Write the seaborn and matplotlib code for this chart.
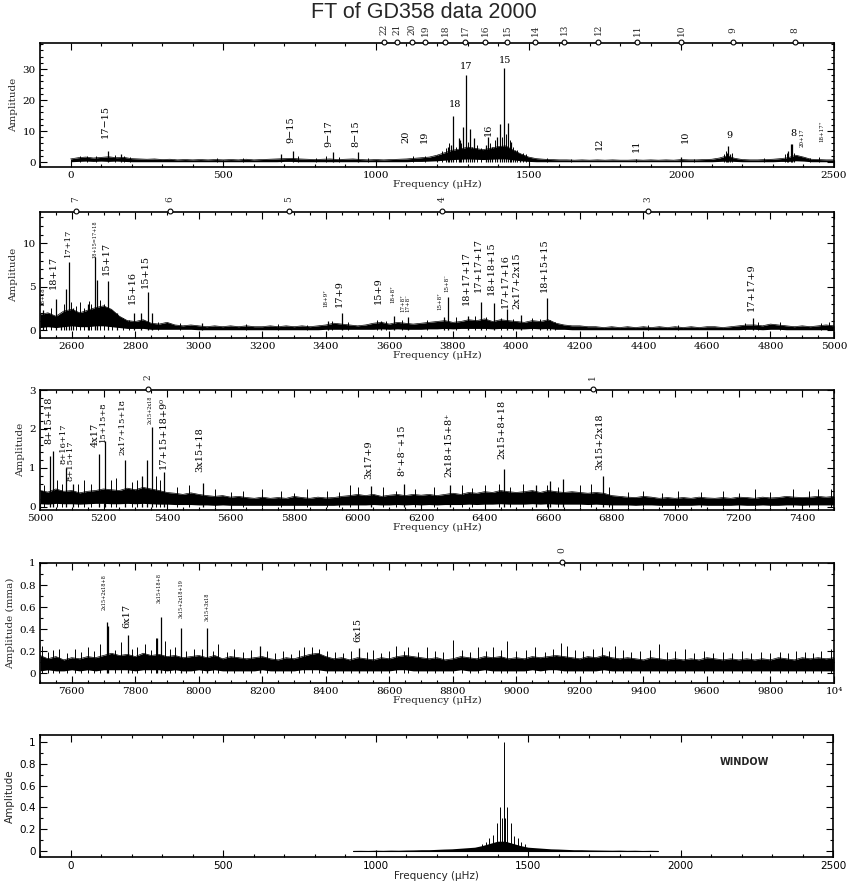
"""
FT of GD358 data 2000 - amplitude spectrum in four frequency slices plus
the spectral window, with mode numbers marked on the top axes and the
combination peaks labelled.
"""

import numpy as np
import matplotlib
matplotlib.use("Agg")
import matplotlib.pyplot as plt
import seaborn as sns
from matplotlib.ticker import MultipleLocator, FuncFormatter

sns.set_theme(style="ticks")
plt.rcParams['font.family'] = ['DejaVu Serif', 'DejaVu Sans']
plt.rcParams['axes.linewidth'] = 1.2

# ============================================================
# DATA
# ============================================================

# --- panel 1 : 0 - 2500 uHz ---------------------------------
p1_grid = np.arange(0, 2501, 25)
p1_noise_hi = [1.0, 1.4, 1.6, 1.3, 1.5, 1.7, 1.4, 1.5, 1.1, 1.0,
               0.9, 1.0, 0.8, 0.9, 0.7, 0.8, 0.7, 0.8, 0.7, 0.8,
               0.7, 0.8, 0.7, 0.9, 0.7, 0.8, 0.9, 1.0, 1.1, 1.2,
               1.0, 0.9, 0.8, 0.9, 1.0, 0.8, 0.9, 1.0, 0.8, 0.7,
               0.8, 0.7, 0.8, 0.9, 1.0, 1.2, 1.4, 1.6, 2.2, 3.0,
               3.8, 4.2, 4.8, 4.4, 4.0, 4.4, 5.0, 5.2, 3.8, 2.6,
               1.6, 1.1, 0.9, 0.8, 0.7, 0.7, 0.6, 0.7, 0.6, 0.7,
               0.6, 0.7, 0.6, 0.6, 0.7, 0.6, 0.7, 0.6, 0.7, 0.6,
               0.8, 0.7, 0.7, 0.8, 0.9, 1.3, 2.0, 1.2, 0.8, 0.7,
               0.7, 0.8, 0.9, 1.1, 1.4, 2.2, 1.6, 0.9, 0.8, 0.7,
               0.7]
p1_noise_lo = [0.1, 0.2, 0.3, 0.2, 0.3, 0.2, 0.3, 0.2, 0.1, 0.1,
               0.1, 0.1, 0.1, 0.1, 0.1, 0.1, 0.1, 0.1, 0.1, 0.1,
               0.1, 0.1, 0.1, 0.1, 0.1, 0.1, 0.1, 0.1, 0.2, 0.2,
               0.1, 0.1, 0.1, 0.1, 0.1, 0.1, 0.1, 0.1, 0.1, 0.1,
               0.1, 0.1, 0.1, 0.1, 0.1, 0.2, 0.2, 0.3, 0.4, 0.6,
               0.8, 0.9, 1.0, 0.9, 0.8, 0.9, 1.0, 1.0, 0.7, 0.4,
               0.2, 0.1, 0.1, 0.1, 0.1, 0.1, 0.1, 0.1, 0.1, 0.1,
               0.1, 0.1, 0.1, 0.1, 0.1, 0.1, 0.1, 0.1, 0.1, 0.1,
               0.1, 0.1, 0.1, 0.1, 0.1, 0.2, 0.3, 0.2, 0.1, 0.1,
               0.1, 0.1, 0.1, 0.2, 0.2, 0.4, 0.3, 0.1, 0.1, 0.1,
               0.1]
p1_peak_freq = [123, 166, 690, 729, 858, 940, 1237, 1247, 1254, 1271, 1276,
                1285, 1296, 1309, 1320, 1361, 1368, 1380, 1398, 1407, 1420,
                1431, 1443, 1455, 1471, 2000, 2148, 2154, 2160, 2351, 2358,
                2364]
p1_peak_amp = [3.5, 2.5, 2.5, 3.6, 3.2, 3.3, 5.0, 5.5, 14.8, 7.7, 7.0,
               11.4, 28.0, 10.6, 7.7, 5.5, 8.2, 5.0, 8.0, 12.2, 30.2,
               12.5, 6.5, 4.0, 2.5, 1.5, 3.0, 5.3, 2.5, 3.5, 5.7,
               5.7]
p1_spike_freq = [30, 55, 85, 145, 175, 195, 480, 565, 745, 805, 835, 880, 975,
                 1120, 1160, 1200, 1215, 1230, 1240, 1262, 1280, 1302, 1315,
                 1330, 1345, 1375, 1390, 1412, 1425, 1438, 1450, 1462, 1480,
                 1490, 1560, 1640, 1850, 2040, 2140, 2145, 2165, 2270, 2340,
                 2345, 2368, 2420, 2450]
p1_spike_amp = [1.8, 2.0, 1.9, 2.2, 2.0, 1.7, 1.2, 1.3, 1.8, 1.4, 1.8, 1.5, 1.3,
                1.8, 2.0, 2.3, 3.5, 4.5, 6.0, 5.0, 6.0, 6.5, 5.0,
                5.5, 4.5, 6.0, 7.0, 8.0, 9.0, 7.0, 5.0, 4.0, 3.0,
                2.5, 1.3, 1.1, 1.0, 1.1, 2.5, 3.5, 3.0, 1.2, 2.5,
                3.0, 3.0, 1.4, 1.6]
p1_labels = [("17−15", 115, 13.0, 7, 90), ("9−15", 723, 10.3, 7, 90),
             ("9−17", 845, 9.3, 7, 90), ("8−15", 933, 9.3, 7, 90),
             ("20", 1099, 8.2, 7, 90), ("19", 1158, 8.2, 7, 90),
             ("18", 1260, 18.7, 7, 0), ("17", 1295, 30.8, 7, 0),
             ("15", 1423, 32.9, 7, 0), ("16", 1368, 10.3, 7, 90),
             ("12", 1731, 6.0, 7, 90), ("11", 1852, 5.3, 7, 90),
             ("10", 2013, 8.2, 7, 90), ("9", 2157, 8.7, 7, 0),
             ("8", 2366, 9.2, 7, 0), ("20+17", 2397, 7.7, 4, 90),
             ("18+17⁺", 2460, 9.8, 4, 90)]
p1_mode_num = [22, 21, 20, 19, 18, 17, 16, 15, 14, 13, 12, 11, 10, 9, 8]
p1_mode_freq = [1027, 1070, 1117, 1162, 1227, 1292, 1358, 1430, 1521, 1617,
                1728, 1855, 1999, 2170, 2372]

# --- panel 2 : 2500 - 5000 uHz ------------------------------
p2_grid = np.arange(2500, 5001, 25)
p2_noise_hi = [1.8, 2.0, 1.6, 2.2, 2.4, 2.0, 2.3, 2.6, 2.8, 2.4,
               1.6, 1.1, 1.0, 1.2, 0.8, 0.7, 0.9, 0.6, 0.5, 0.6,
               0.5, 0.4, 0.5, 0.4, 0.5, 0.4, 0.5, 0.4, 0.4, 0.5,
               0.4, 0.5, 0.4, 0.5, 0.4, 0.5, 0.6, 0.8, 0.7, 0.6,
               0.5, 0.6, 0.8, 0.9, 0.7, 0.9, 0.8, 0.7, 0.8, 0.9,
               1.0, 1.1, 0.9, 1.0, 1.2, 1.1, 1.3, 1.0, 1.2, 1.1,
               1.0, 0.9, 1.1, 1.0, 1.2, 0.8, 0.6, 0.5, 0.5, 0.4,
               0.4, 0.3, 0.4, 0.3, 0.4, 0.3, 0.4, 0.3, 0.4, 0.3,
               0.4, 0.3, 0.4, 0.3, 0.4, 0.4, 0.3, 0.4, 0.5, 0.6,
               0.6, 0.5, 0.7, 0.6, 0.5, 0.4, 0.5, 0.4, 0.5, 0.6,
               0.5]
p2_noise_lo = [0.3, 0.4, 0.3, 0.4, 0.5, 0.4, 0.4, 0.5, 0.5, 0.4,
               0.3, 0.2, 0.2, 0.2, 0.1, 0.1, 0.1, 0.1, 0.1, 0.1,
               0.05, 0.05, 0.05, 0.05, 0.05, 0.05, 0.05, 0.05, 0.05, 0.05,
               0.05, 0.05, 0.05, 0.05, 0.05, 0.05, 0.1, 0.1, 0.1, 0.1,
               0.1, 0.1, 0.1, 0.15, 0.1, 0.15, 0.1, 0.1, 0.1, 0.15,
               0.15, 0.2, 0.15, 0.2, 0.2, 0.2, 0.2, 0.15, 0.2, 0.2,
               0.15, 0.15, 0.2, 0.15, 0.2, 0.1, 0.1, 0.05, 0.05, 0.05,
               0.05, 0.05, 0.05, 0.05, 0.05, 0.05, 0.05, 0.05, 0.05, 0.05,
               0.05, 0.05, 0.05, 0.05, 0.05, 0.05, 0.05, 0.05, 0.05, 0.1,
               0.1, 0.05, 0.1, 0.1, 0.05, 0.05, 0.05, 0.05, 0.05, 0.05,
               0.05]
p2_peak_freq = [2510, 2550, 2566, 2581, 2591, 2605, 2651, 2673, 2678, 2715,
                2741, 2797, 2819, 2839, 2852, 3009, 3408, 3450, 3574, 3616,
                3660, 3772, 3786, 3848, 3888, 3930, 3971, 4013, 4095, 4105,
                4746]
p2_peak_amp = [2.3, 3.6, 1.5, 4.7, 7.9, 2.5, 3.0, 8.4, 5.8, 5.7,
               2.0, 2.0, 2.0, 4.4, 2.0, 0.8, 1.1, 2.0, 1.0, 1.6,
               1.5, 1.5, 3.8, 1.6, 3.3, 3.1, 2.4, 1.8, 3.7, 1.2,
               1.4]
p2_spike_freq = [2520, 2535, 2575, 2598, 2612, 2625, 2640, 2655, 2662, 2690,
                 2700, 2728, 2760, 2780, 2870, 2940, 3150, 3250, 3340, 3420,
                 3470, 3560, 3590, 3640, 3720, 3810, 3870, 3905, 3950, 3990,
                 4050, 4075, 4120, 4415, 4510, 4720, 4760, 4830, 4960, 4985]
p2_spike_amp = [1.6, 2.5, 3.0, 3.2, 2.8, 3.2, 2.6, 3.4, 3.0, 3.5,
                3.0, 2.2, 1.4, 1.2, 0.9, 0.8, 0.7, 0.7, 0.6, 1.1,
                0.9, 1.2, 1.0, 1.2, 1.2, 1.5, 1.6, 1.5, 1.4, 1.3,
                1.4, 1.3, 0.9, 0.6, 0.6, 0.8, 0.9, 0.9, 0.8, 0.9]
p2_labels = [("18+18", 2510, 3.9, 4, 90), ("18+17", 2541, 6.7, 7, 90),
             ("17+17", 2588, 10.0, 6, 90), ("18+15=17+18", 2673, 10.5, 3.5, 90),
             ("15+17", 2708, 8.3, 7, 90), ("15+16", 2790, 4.9, 7, 90),
             ("15+15", 2833, 6.7, 7, 90), ("18+9⁺", 3400, 3.7, 4, 90),
             ("17+9", 3442, 4.2, 7, 90), ("15+9", 3565, 4.5, 7, 90),
             ("18+8⁺", 3610, 4.2, 4, 90), ("17+8⁺", 3642, 3.1, 4, 90),
             ("17+8⁻", 3659, 3.1, 4, 90), ("15+8⁺", 3759, 3.4, 4, 90),
             ("15+8⁻", 3780, 5.4, 4, 90), ("18+17+17", 3843, 6.0, 7, 90),
             ("17+17+17", 3879, 7.5, 7, 90), ("18+18+15", 3922, 7.1, 7, 90),
             ("17+17+16", 3964, 5.7, 7, 90), ("2x17+2x15", 4003, 5.7, 7, 90),
             ("18+15+15", 4087, 7.5, 7, 90), ("17+17+9", 4740, 5.0, 7, 90)]
p2_mode_num = [7, 6, 5, 4, 3]
p2_mode_freq = [2613, 2909, 3284, 3765, 4414]

# --- panel 3 : 5000 - 7500 uHz ------------------------------
p3_grid = np.arange(5000, 7501, 25)
p3_noise_hi = [0.42, 0.38, 0.46, 0.40, 0.42, 0.36, 0.40, 0.42, 0.46, 0.44,
               0.42, 0.48, 0.44, 0.50, 0.46, 0.42, 0.37, 0.35, 0.32, 0.36,
               0.32, 0.29, 0.27, 0.29, 0.25, 0.27, 0.24, 0.22, 0.25, 0.22,
               0.24, 0.22, 0.27, 0.24, 0.22, 0.25, 0.23, 0.24, 0.27, 0.29,
               0.32, 0.29, 0.32, 0.27, 0.30, 0.32, 0.29, 0.32, 0.30, 0.32,
               0.29, 0.32, 0.35, 0.32, 0.37, 0.35, 0.39, 0.37, 0.42, 0.39,
               0.37, 0.39, 0.42, 0.37, 0.42, 0.39, 0.37, 0.39, 0.37, 0.35,
               0.37, 0.35, 0.29, 0.27, 0.25, 0.24, 0.27, 0.25, 0.22, 0.24,
               0.22, 0.24, 0.22, 0.25, 0.23, 0.22, 0.24, 0.22, 0.25, 0.24,
               0.22, 0.25, 0.23, 0.24, 0.27, 0.25, 0.24, 0.25, 0.27, 0.25,
               0.27]
p3_noise_lo = [0.08, 0.07, 0.09, 0.08, 0.08, 0.07, 0.08, 0.09, 0.09, 0.08,
               0.08, 0.09, 0.08, 0.09, 0.08, 0.07, 0.07, 0.06, 0.06, 0.06,
               0.05, 0.05, 0.04, 0.05, 0.04, 0.04, 0.04, 0.04, 0.04, 0.04,
               0.04, 0.04, 0.04, 0.04, 0.04, 0.04, 0.04, 0.04, 0.05, 0.05,
               0.05, 0.05, 0.06, 0.05, 0.05, 0.06, 0.05, 0.06, 0.05, 0.06,
               0.05, 0.06, 0.06, 0.06, 0.07, 0.06, 0.07, 0.07, 0.08, 0.07,
               0.07, 0.07, 0.08, 0.07, 0.08, 0.07, 0.07, 0.07, 0.07, 0.06,
               0.07, 0.06, 0.05, 0.05, 0.05, 0.04, 0.05, 0.05, 0.04, 0.04,
               0.04, 0.04, 0.04, 0.05, 0.04, 0.04, 0.04, 0.04, 0.05, 0.04,
               0.04, 0.05, 0.04, 0.04, 0.05, 0.05, 0.04, 0.05, 0.05, 0.05,
               0.05]
p3_peak_freq = [5031, 5040, 5081, 5103, 5185, 5205, 5268, 5320, 5336, 5352,
                5391, 5514, 6041, 6146, 6291, 6461, 6562, 6606, 6648, 6772]
p3_peak_amp = [1.30, 1.43, 1.00, 0.60, 1.35, 1.68, 1.20, 0.80, 1.20, 2.05,
               0.90, 0.62, 0.53, 0.60, 0.57, 0.97, 0.55, 0.67, 0.72, 0.78]
p3_spike_freq = [5012, 5055, 5068, 5120, 5140, 5160, 5225, 5240, 5290, 5305,
                 5365, 5378, 5430, 5470, 5550, 5600, 5640, 5700, 5760, 5800,
                 5840, 5905, 5940, 5975, 6000, 6080, 6120, 6180, 6240, 6330,
                 6360, 6400, 6445, 6480, 6520, 6595, 6630, 6700, 6735, 6790,
                 6850, 6900, 6960, 7010, 7080, 7150, 7200, 7250, 7300, 7370,
                 7420, 7450, 7490]
p3_spike_amp = [0.55, 0.70, 0.60, 0.60, 0.70, 0.60, 0.70, 0.75, 0.65, 0.70,
                0.80, 0.70, 0.50, 0.55, 0.45, 0.38, 0.40, 0.45, 0.40, 0.36,
                0.45, 0.40, 0.38, 0.55, 0.50, 0.50, 0.42, 0.45, 0.50, 0.55,
                0.48, 0.55, 0.60, 0.50, 0.60, 0.55, 0.50, 0.55, 0.60, 0.50,
                0.38, 0.40, 0.36, 0.40, 0.38, 0.40, 0.36, 0.45, 0.38, 0.45,
                0.40, 0.45, 0.45]
p3_labels = [("8+15+18", 5029, 2.23, 7, 90), ("8+16+17", 5074, 1.62, 6, 90),
             ("8+15+17", 5097, 1.18, 6, 90), ("4x17", 5173, 1.85, 7, 90),
             ("15+15+8", 5199, 2.19, 6, 90), ("2x17+15+18", 5260, 2.06, 6, 90),
             ("2x15+2x18", 5346, 2.50, 3.5, 90), ("17+15+18+9⁰", 5388, 1.89, 7, 90),
             ("3x15+18", 5504, 1.46, 7, 90), ("3x17+9", 6034, 1.20, 7, 90),
             ("8⁺+8⁻+15", 6139, 1.46, 7, 90), ("2x18+15+8⁺", 6286, 1.59, 7, 90),
             ("2x15+8+18", 6454, 1.99, 7, 90), ("3x15+2x18", 6763, 1.68, 7, 90)]
p3_mode_num = [2, 1]
p3_mode_freq = [5340, 6741]

# --- panel 4 : 7500 - 10000 uHz -----------------------------
p4_grid = np.arange(7500, 10001, 25)
p4_noise_hi = [0.16, 0.13, 0.15, 0.12, 0.14, 0.13, 0.15, 0.14, 0.16, 0.18,
               0.16, 0.17, 0.15, 0.18, 0.16, 0.17, 0.15, 0.16, 0.14, 0.15,
               0.16, 0.14, 0.16, 0.13, 0.15, 0.14, 0.13, 0.14, 0.15, 0.13,
               0.12, 0.14, 0.13, 0.15, 0.17, 0.18, 0.15, 0.13, 0.14, 0.12,
               0.14, 0.13, 0.12, 0.14, 0.13, 0.15, 0.16, 0.15, 0.14, 0.13,
               0.14, 0.12, 0.13, 0.15, 0.14, 0.13, 0.15, 0.14, 0.15, 0.13,
               0.14, 0.13, 0.15, 0.14, 0.15, 0.16, 0.15, 0.14, 0.13, 0.15,
               0.14, 0.16, 0.14, 0.13, 0.14, 0.13, 0.12, 0.14, 0.13, 0.12,
               0.13, 0.12, 0.13, 0.12, 0.14, 0.13, 0.12, 0.13, 0.12, 0.13,
               0.12, 0.13, 0.12, 0.14, 0.13, 0.12, 0.14, 0.13, 0.14, 0.13,
               0.14]
p4_noise_lo = [0.02, 0.03, 0.02, 0.02, 0.03, 0.02, 0.03, 0.02, 0.03, 0.03,
               0.03, 0.03, 0.02, 0.03, 0.03, 0.03, 0.02, 0.03, 0.02, 0.02,
               0.03, 0.02, 0.03, 0.02, 0.02, 0.02, 0.02, 0.02, 0.03, 0.02,
               0.02, 0.02, 0.02, 0.03, 0.03, 0.03, 0.02, 0.02, 0.02, 0.02,
               0.02, 0.02, 0.02, 0.02, 0.02, 0.03, 0.03, 0.02, 0.02, 0.02,
               0.02, 0.02, 0.02, 0.03, 0.02, 0.02, 0.03, 0.02, 0.02, 0.02,
               0.02, 0.02, 0.03, 0.02, 0.03, 0.03, 0.02, 0.02, 0.02, 0.02,
               0.02, 0.03, 0.02, 0.02, 0.02, 0.02, 0.02, 0.02, 0.02, 0.02,
               0.02, 0.02, 0.02, 0.02, 0.02, 0.02, 0.02, 0.02, 0.02, 0.02,
               0.02, 0.02, 0.02, 0.02, 0.02, 0.02, 0.02, 0.02, 0.02, 0.02,
               0.02]
p4_peak_freq = [7710, 7715, 7778, 7869, 7881, 7944, 8027, 8192, 8505]
p4_peak_amp = [0.46, 0.43, 0.345, 0.32, 0.506, 0.41, 0.41, 0.25, 0.23]
p4_spike_freq = [7505, 7525, 7540, 7560, 7585, 7610, 7630, 7650, 7670, 7690,
                 7735, 7755, 7790, 7805, 7830, 7850, 7865, 7895, 7910, 7925,
                 7960, 7985, 8010, 8045, 8060, 8090, 8110, 8140, 8165, 8215,
                 8240, 8265, 8290, 8315, 8330, 8355, 8380, 8405, 8430, 8455,
                 8480, 8530, 8550, 8575, 8600, 8620, 8645, 8660, 8690, 8720,
                 8745, 8770, 8800, 8830, 8855, 8880, 8905, 8925, 8950, 8970,
                 9000, 9030, 9060, 9090, 9115, 9140, 9160, 9185, 9210, 9240,
                 9270, 9290, 9310, 9335, 9360, 9390, 9420, 9450, 9475, 9500,
                 9530, 9560, 9590, 9620, 9650, 9680, 9710, 9740, 9770, 9800,
                 9830, 9855, 9880, 9910, 9935, 9960, 9990]
p4_spike_amp = [0.25, 0.19, 0.21, 0.22, 0.18, 0.22, 0.19, 0.24, 0.20, 0.26,
                0.21, 0.28, 0.22, 0.24, 0.26, 0.21, 0.32, 0.29, 0.22, 0.24,
                0.20, 0.22, 0.22, 0.20, 0.26, 0.19, 0.22, 0.19, 0.21, 0.20,
                0.18, 0.20, 0.17, 0.21, 0.24, 0.24, 0.22, 0.20, 0.19, 0.18,
                0.20, 0.19, 0.21, 0.18, 0.20, 0.25, 0.20, 0.24, 0.19, 0.24,
                0.20, 0.19, 0.30, 0.21, 0.19, 0.24, 0.20, 0.24, 0.21, 0.29,
                0.20, 0.21, 0.24, 0.19, 0.22, 0.27, 0.25, 0.21, 0.20, 0.22,
                0.24, 0.20, 0.25, 0.21, 0.19, 0.20, 0.21, 0.26, 0.19, 0.20,
                0.22, 0.18, 0.20, 0.18, 0.19, 0.18, 0.20, 0.18, 0.19, 0.18,
                0.19, 0.18, 0.20, 0.19, 0.18, 0.20, 0.22]
p4_labels = [("2x15+2x18+8", 7702, 0.74, 3.5, 90), ("6x17", 7775, 0.52, 7, 90),
             ("3x15+18+8", 7875, 0.77, 3.5, 90), ("3x15+2x18+19", 7944, 0.68, 3.5, 90),
             ("3x15+3x18", 8025, 0.60, 3.5, 90), ("6x15", 8502, 0.39, 7, 90)]
p4_mode_num = [0]
p4_mode_freq = [9144]

# --- panel 5 : spectral window ------------------------------
win_grid = np.arange(925, 1926, 25)
win_noise = [0.005, 0.006, 0.005, 0.007, 0.006, 0.008, 0.007, 0.009, 0.010, 0.012,
             0.012, 0.015, 0.018, 0.020, 0.025, 0.030, 0.035, 0.050, 0.070, 0.090,
             0.090, 0.070, 0.050, 0.035, 0.030, 0.025, 0.020, 0.018, 0.015, 0.012,
             0.012, 0.010, 0.009, 0.008, 0.007, 0.008, 0.006, 0.007, 0.005, 0.006,
             0.005]
win_peak_freq = [1350, 1362, 1373.6, 1385.2, 1396.8, 1408.4, 1414, 1420, 1426,
                 1431.6, 1443.2, 1454.8, 1466.4, 1478, 1490]
win_peak_amp = [0.06, 0.08, 0.12, 0.15, 0.26, 0.40, 0.30, 1.00, 0.30,
                0.40, 0.26, 0.14, 0.12, 0.08, 0.06]

# ============================================================
# FIGURE
# ============================================================
fig = plt.figure(figsize=(8.47, 8.86), dpi=100)
fig.text(0.5, 0.986, "FT of GD358 data 2000", ha='center', va='center',
         fontsize=15.5, family=['Liberation Sans', 'DejaVu Sans'])

W = 847.0
H = 886.0
rects = [(40, 43, 834, 167), (40, 212, 834, 338), (40, 390, 834, 510),
         (40, 563, 834, 683), (40, 735, 833, 857)]


def make_axes(r):
    x0, y0, x1, y1 = r
    return fig.add_axes([x0 / W, 1 - y1 / H, (x1 - x0) / W, (y1 - y0) / H])


def style_axis(ax, xlim, ylim, xmaj, xmin, ymaj, ymin, ylabel="Amplitude",
               fam=None, fmt=None):
    ax.set_xlim(*xlim)
    ax.set_ylim(*ylim)
    ax.xaxis.set_major_locator(MultipleLocator(xmaj))
    ax.xaxis.set_minor_locator(MultipleLocator(xmin))
    ax.yaxis.set_major_locator(MultipleLocator(ymaj))
    ax.yaxis.set_minor_locator(MultipleLocator(ymin))
    if fmt is not None:
        ax.xaxis.set_major_formatter(FuncFormatter(fmt))
    ax.yaxis.set_major_formatter(FuncFormatter(lambda v, p: f"{v:g}"))
    ax.tick_params(which='both', direction='in', top=True, right=True,
                   labelsize=7.5, width=0.8, pad=3, colors='black')
    ax.tick_params(which='major', length=5)
    ax.tick_params(which='minor', length=2.5)
    for s in ax.spines.values():
        s.set_linewidth(1.2)
        s.set_color('black')
    kw = {} if fam is None else {'family': fam}
    ax.set_xlabel("Frequency (μHz)", fontsize=7.5, labelpad=0, **kw)
    ax.set_ylabel(ylabel, fontsize=7.5, labelpad=3, **kw)
    if fam is not None:
        for t in ax.get_xticklabels() + ax.get_yticklabels():
            t.set_family(fam)


def draw_spectrum(ax, grid, hi, lo, pk_f, pk_a, sp_f, sp_a):
    ax.fill_between(grid, lo, hi, color='black', lw=0)
    sns.lineplot(x=grid, y=hi, ax=ax, color='black', lw=0.5)
    ax.vlines(sp_f, 0, sp_a, color='black', lw=0.7)
    ax.vlines(pk_f, 0, pk_a, color='black', lw=0.9)


def draw_labels(ax, labels):
    for txt, f, a, size, rot in labels:
        ax.text(f, a, txt, rotation=rot, ha='center', va='center',
                fontsize=size, color='black')


def draw_modes(ax, nums, freqs):
    trans = ax.get_xaxis_transform()
    ax.plot(freqs, [1.005] * len(freqs), 'o', mfc='white', mec='black',
            ms=3.5, mew=0.8, transform=trans, clip_on=False, zorder=5)
    for k, f in zip(nums, freqs):
        ax.annotate(str(k), (f, 1.0), xycoords=trans, xytext=(0, 9.5),
                    textcoords='offset points', rotation=90, ha='center',
                    va='center', fontsize=6.5, annotation_clip=False)


# panel 1
ax1 = make_axes(rects[0])
draw_spectrum(ax1, p1_grid, p1_noise_hi, p1_noise_lo, p1_peak_freq, p1_peak_amp,
              p1_spike_freq, p1_spike_amp)
style_axis(ax1, (-100, 2500), (-1.6, 38.4), 500, 100, 10, 2)
draw_labels(ax1, p1_labels)
draw_modes(ax1, p1_mode_num, p1_mode_freq)

# panel 2
ax2 = make_axes(rects[1])
draw_spectrum(ax2, p2_grid, p2_noise_hi, p2_noise_lo, p2_peak_freq, p2_peak_amp,
              p2_spike_freq, p2_spike_amp)
style_axis(ax2, (2500, 5000), (-0.9, 13.6), 200, 50, 5, 1)
draw_labels(ax2, p2_labels)
draw_modes(ax2, p2_mode_num, p2_mode_freq)

# panel 3
ax3 = make_axes(rects[2])
draw_spectrum(ax3, p3_grid, p3_noise_hi, p3_noise_lo, p3_peak_freq, p3_peak_amp,
              p3_spike_freq, p3_spike_amp)
style_axis(ax3, (5000, 7500), (-0.08, 3.0), 200, 50, 1, 0.2)
draw_labels(ax3, p3_labels)
draw_modes(ax3, p3_mode_num, p3_mode_freq)

# panel 4
ax4 = make_axes(rects[3])
draw_spectrum(ax4, p4_grid, p4_noise_hi, p4_noise_lo, p4_peak_freq, p4_peak_amp,
              p4_spike_freq, p4_spike_amp)
style_axis(ax4, (7500, 10000), (-0.09, 1.0), 200, 50, 0.2, 0.1,
           ylabel="Amplitude (mma)",
           fmt=lambda v, p: "10⁴" if abs(v - 10000) < 1 else f"{v:g}")
draw_labels(ax4, p4_labels)
draw_modes(ax4, p4_mode_num, p4_mode_freq)

# panel 5 : window
narrow = ['Liberation Sans Narrow', 'DejaVu Sans']
ax5 = make_axes(rects[4])
ax5.fill_between(win_grid, 0, win_noise, color='black', lw=0)
sns.lineplot(x=win_grid, y=[0] * len(win_grid), ax=ax5, color='black', lw=0.8)
ax5.vlines(win_peak_freq, 0, win_peak_amp, color='black', lw=0.7)
style_axis(ax5, (-100, 2500), (-0.055, 1.065), 500, 100, 0.2, 0.1, fam=narrow)
ax5.text(2208, 0.82, "WINDOW", ha='center', va='center', fontsize=7,
         family=narrow, fontweight='bold')

plt.savefig('out.png', dpi=100)
